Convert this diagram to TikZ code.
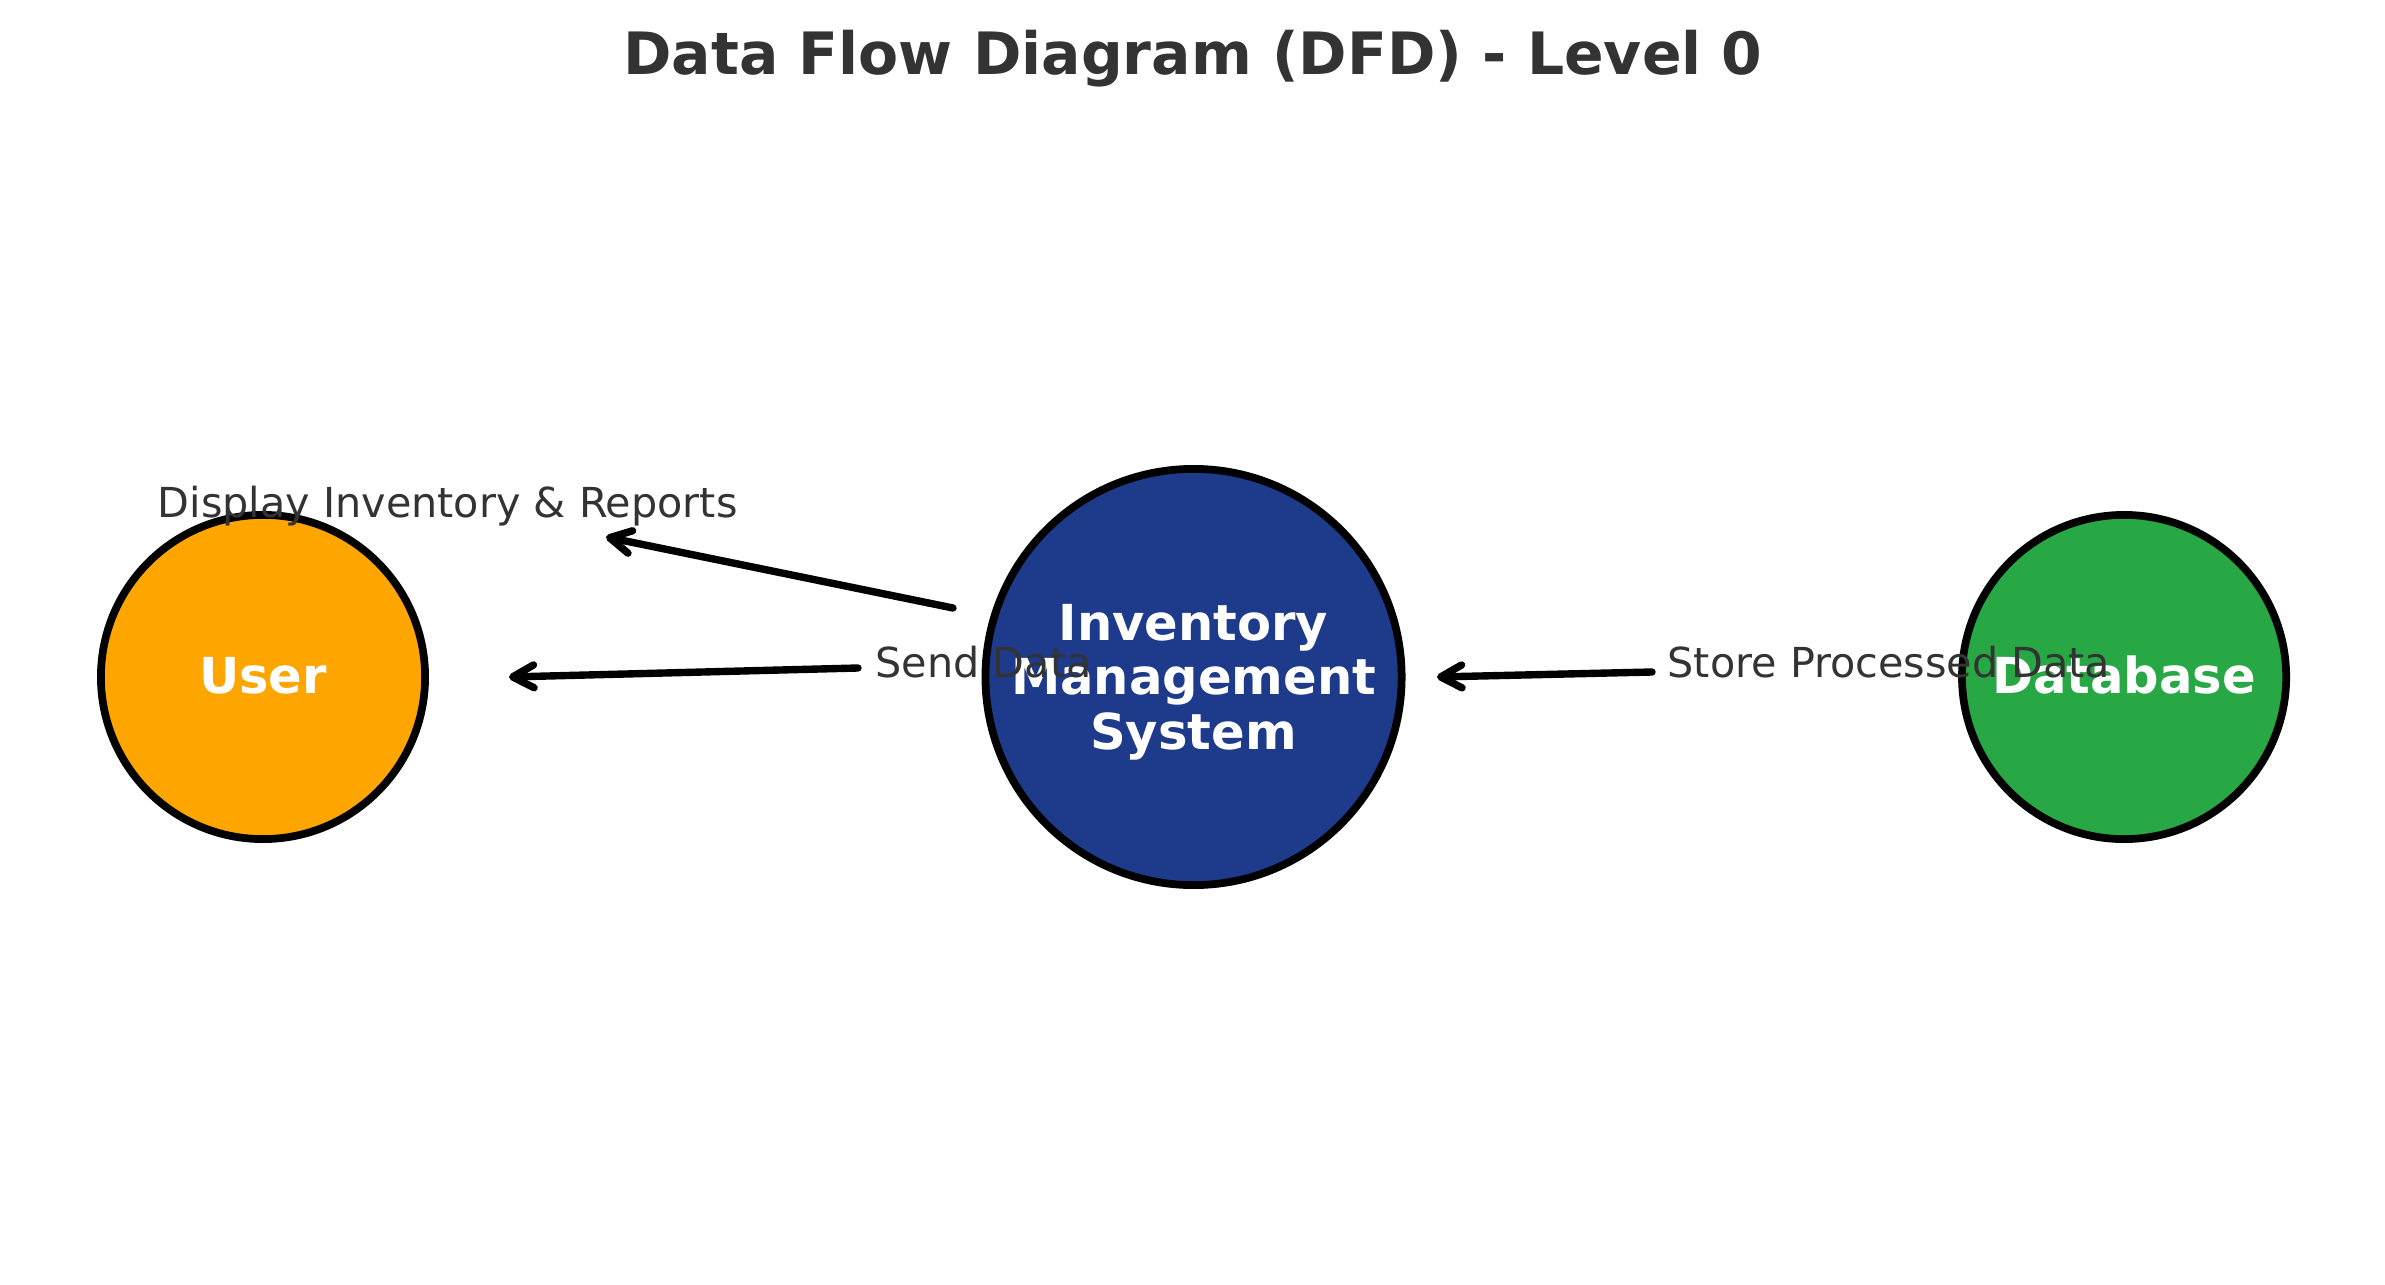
\documentclass[tikz,border=0pt]{standalone}
\usepackage{fontspec}
\setmainfont{DejaVu Sans}
\usetikzlibrary{positioning, arrows.meta}
\definecolor{userorange}{HTML}{FFA500}
\definecolor{imsblue}{HTML}{1E3A8A}
\definecolor{dbgreen}{HTML}{28A745}
\definecolor{textgray}{HTML}{333333}

\begin{document}
\begin{tikzpicture}[x=0.01cm,y=-0.01cm,node distance=9.3cm,on grid,
  entity/.style={circle,draw=black,line width=2.2pt,minimum size=3.24cm,inner sep=0pt,
    text=white,font=\fontsize{14.1}{15.5}\selectfont\bfseries},
  onebox/.style={text height=11.8pt,text depth=2.2pt},
  flow/.style={-{Straight Barb[length=6pt,width=6.5pt,round]},line width=2.1pt,line cap=round},
  flowlabel/.style={anchor=base west,inner sep=0pt,text=textgray,font=\fontsize{11.75}{14}\selectfont}]
\useasboundingbox (0,0) rectangle (2385,1285);

\node[anchor=base,inner sep=0pt,text=textgray,font=\fontsize{16.6}{20}\selectfont\bfseries] (title) at (1193,75) {Data Flow Diagram (DFD) - Level 0};

\node[entity,onebox,fill=userorange] (user) at (263,677) {User};
\node[entity,fill=imsblue,minimum size=4.16cm,align=center] (ims) [right=of user] {\rule{0pt}{13pt}Inventory\\Management\\System};
\node[entity,onebox,fill=dbgreen] (db) [right=of ims] {Database};

\coordinate (d0) at (953,608);
\coordinate (d1) at (606,537);
\coordinate (s0) at (858,668);
\coordinate (s1) at (509,677);
\coordinate (p0) at (1652,672);
\coordinate (p1) at (1437,677);

\path[flow]
(d0) edge (d1)
(s0) edge (s1)
(p0) edge (p1);

\node[flowlabel] (dlabel) at (157,517) {Display Inventory \& Reports};
\node[flowlabel] (slabel) at (875,677) {Send Data};
\node[flowlabel] (plabel) at (1667,677) {Store Processed Data};
\end{tikzpicture}
\end{document}
